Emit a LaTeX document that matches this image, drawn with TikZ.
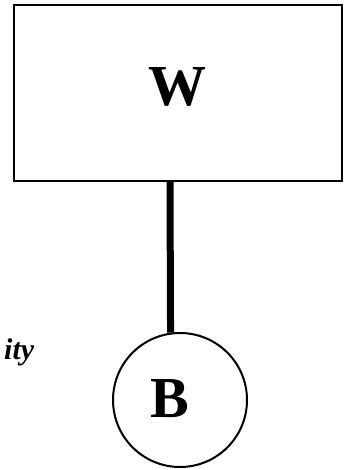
\documentclass[tikz,border=0pt]{standalone}
\usepackage{fontspec}
\setmainfont{Liberation Serif}
\begin{document}
\begin{tikzpicture}[x=1pt,y=-1pt,
  boxline/.style={draw=black,line width=2pt},
  lbl/.style={font=\fontsize{58}{58}\selectfont\bfseries,inner sep=0pt},
  hand/.style={font=\fontsize{30}{30}\selectfont\bfseries\itshape,inner sep=0pt}]
\useasboundingbox (0,0) rectangle (349,470);
\fill[white] (0,0) rectangle (349,470);
\node[boxline,rectangle,minimum width=328pt,minimum height=176pt,inner sep=0pt] (w) at (178,93) {};
\node[lbl] (wl) at (177,87) {W};
\node[boxline,circle,minimum size=134pt,inner sep=0pt] (b) at (180,400) {};
\node[lbl] (bl) at (170,399) {B};
\draw[line width=7pt] ([xshift=-8pt]w.south) -- (b.98.6);
\node[hand,anchor=west] (h) at (4,352) {ity};
\end{tikzpicture}
\end{document}
